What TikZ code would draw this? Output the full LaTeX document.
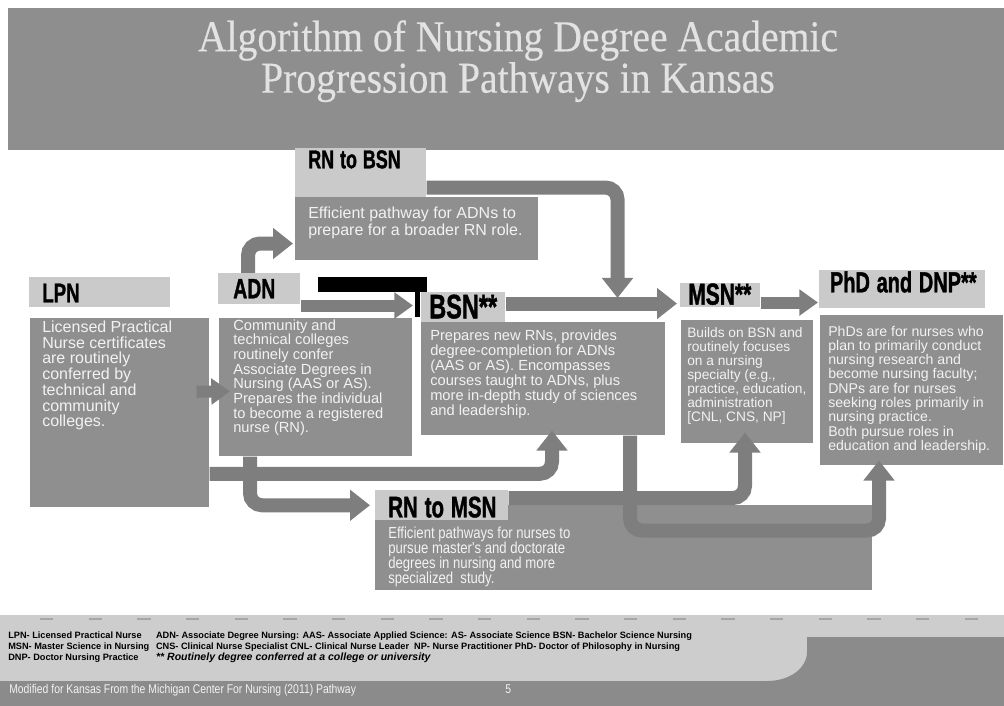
\documentclass[tikz,border=0pt]{standalone}
\usepackage{fontspec}
\setmainfont{Liberation Sans}
\newfontfamily\titlefont{Liberation Serif}[FakeStretch=0.9,FakeBold=0.3]
\newfontfamily\narrowfont{Liberation Sans}[FakeStretch=0.82]
\newfontfamily\headfont{Liberation Sans Bold}[FakeBold=1.5]
\usetikzlibrary{arrows.meta,calc}
\def\px{0.75pt}
\definecolor{bandgray}{HTML}{8E8E8E}
\definecolor{boxgray}{HTML}{8F8F8F}
\definecolor{headgray}{HTML}{CACACA}
\definecolor{arrowgray}{HTML}{7E7E7E}
\definecolor{titlegray}{HTML}{E2E2E2}
\definecolor{footlight}{HTML}{CDCDCD}
\definecolor{footdark}{HTML}{8B8B8B}
\definecolor{textwhite}{HTML}{F2F2F2}
\newcommand{\boxtext}[3]{\parbox[t][#2][t]{#1}{\raggedright #3}}
\newcommand{\hd}[1]{\scalebox{0.75}[1.08]{#1}}

\begin{document}
\begin{tikzpicture}[x=\px, y=-\px]
	\tikzstyle{head}=[fill=headgray, anchor=north west, inner ysep=0pt, align=left, text=black]
	\tikzstyle{desc}=[fill=boxgray, anchor=north west, text=textwhite]
	\tikzstyle{pathway}=[draw=arrowgray, line width=10.5pt, rounded corners=9pt, -{Triangle[length=15pt,width=22.5pt]}]
	\tikzstyle{short pathway}=[pathway, line width=9pt, -{Triangle[length=14pt,width=19pt]}]
	\tikzstyle{credit}=[anchor=base west, inner sep=0pt, text=textwhite, font=\narrowfont\fontsize{9.5}{11}\selectfont]
	\useasboundingbox (0,0) rectangle (1004,706);

	% Draw the title band
	\fill[bandgray] (8,8) rectangle (1004,150);
	\node[anchor=north, inner sep=0pt, align=center, text=titlegray, font=\titlefont\fontsize{33}{24.75}\selectfont] (title) at (518,20)
		{Algorithm of Nursing Degree Academic\\Progression Pathways in Kansas};

	% Draw the footer
	\fill[footlight] (0,615) rectangle (1004,681);
	\draw[black!35, line width=1.5pt, dash pattern=on 10pt off 26.5pt] (40,619) -- (1004,619);
	\fill[footdark] (0,681) -- (767,681) .. controls (790,681) and (807,668) .. (807,652) -- (807,637)
		-- (1004,637) -- (1004,706) -- (0,706) -- cycle;
	\node[anchor=north west, inner sep=0pt, font=\bfseries\fontsize{6.9}{8.2}\selectfont] (legend) at (8,631)
		{\begin{tabular}{@{}l@{\hspace{5pt}}l@{}}
			LPN- Licensed Practical Nurse & ADN- Associate Degree Nursing: AAS- Associate Applied Science: AS- Associate Science BSN- Bachelor Science Nursing\\
			MSN- Master Science in Nursing & CNS- Clinical Nurse Specialist CNL- Clinical Nurse Leader\ \ NP- Nurse Practitioner PhD- Doctor of Philosophy in Nursing\\
			DNP- Doctor Nursing Practice & {\fontsize{7.9}{8.2}\selectfont\itshape ** Routinely degree conferred at a college or university}
		\end{tabular}};
	\node[credit] (credit) at (9,693) {Modified for Kansas From the Michigan Center For Nursing (2011) Pathway};
	\node[credit] (page) at (505,693) {5};

	% Draw the description boxes
	\node[desc, inner xsep=9.75pt, inner ysep=7pt, font=\fontsize{12}{12.75}\selectfont] (rnbsnd) at (295,197)
		{\boxtext{162.75pt}{33.25pt}{Efficient pathway for ADNs to\\prepare for a broader RN role.}};
	\node[desc, inner xsep=9pt, inner ysep=2pt, font=\fontsize{12}{11.8}\selectfont] (lpnd) at (30,318)
		{\boxtext{116.25pt}{137.75pt}{Licensed Practical\\Nurse certificates\\are routinely\\conferred by\\technical and\\community\\colleges.}};
	\node[desc, inner xsep=10.5pt, inner ysep=1pt, font=\fontsize{11}{11}\selectfont] (adnd) at (219,318)
		{\boxtext{123.75pt}{101.5pt}{Community and\\technical colleges\\routinely confer\\Associate Degrees in\\Nursing (AAS or AS).\\Prepares the individual\\to become a registered\\nurse (RN).}};
	\node[desc, inner xsep=6.75pt, inner ysep=6pt, font=\fontsize{11}{11.25}\selectfont] (bsnd) at (421,322)
		{\boxtext{169.5pt}{72.75pt}{Prepares new RNs, provides\\degree-completion for ADNs\\(AAS or AS). Encompasses\\courses taught to ADNs, plus\\more in-depth study of sciences\\and leadership.}};
	\node[desc, inner xsep=4.5pt, inner ysep=5.5pt, font=\fontsize{10.3}{10.5}\selectfont] (msnd) at (681,320)
		{\boxtext{90pt}{81.25pt}{Builds on BSN and\\routinely focuses\\on a nursing\\specialty (e.g.,\\practice, education,\\administration\\{[CNL, CNS, NP]}}};
	\node[desc, inner xsep=6pt, inner ysep=8pt, font=\fontsize{10.6}{10.7}\selectfont] (phdd) at (820,315)
		{\boxtext{125.25pt}{96.5pt}{PhDs are for nurses who\\plan to primarily conduct\\nursing research and\\become nursing faculty;\\DNPs are for nurses\\seeking roles primarily in\\nursing practice.\\Both pursue roles in\\education and leadership.}};
	\node[desc, inner xsep=9.75pt, inner ysep=2pt, font=\narrowfont\fontsize{12}{11.25}\selectfont] (rnmsnd) at (375,505)
		{\boxtext{353.25pt}{59.75pt}{\vspace*{14.5pt}Efficient pathways for nurses to\\pursue master's and doctorate\\degrees in nursing and more\\specialized\ \ study.}};

	% Draw the level headers
	\node[head, inner xsep=9.75pt, text width=78.75pt, text height=15pt, text depth=21.75pt,
		font=\headfont\fontsize{17.9}{18}\selectfont] (rnbsnh) at (295,148) {\hd{RN to BSN}};
	\node[head, inner xsep=9.75pt, text width=86.25pt, text height=18.75pt, text depth=3.75pt,
		font=\headfont\fontsize{18.7}{19}\selectfont] (lpnh) at (29,277) {\hd{LPN}};
	\node[head, inner xsep=11.25pt, text width=39pt, text height=18.75pt, text depth=4.5pt,
		font=\headfont\fontsize{19.4}{20}\selectfont] (adnh) at (218,273) {\hd{ADN}};
	\node[head, inner xsep=6pt, text width=51pt, text height=19.5pt, text depth=3pt,
		font=\headfont\fontsize{23.5}{23.5}\selectfont] (bsnh) at (421,292) {\hd{BSN**}};
	\node[head, inner xsep=6pt, text width=48pt, text height=16pt, text depth=2pt,
		font=\headfont\fontsize{21}{21}\selectfont] (msnh) at (680,283) {\hd{MSN**}};
	\node[head, inner xsep=8pt, text width=108.5pt, text height=16.5pt, text depth=12pt,
		font=\headfont\fontsize{20}{20}\selectfont] (phdh) at (819,270) {\hd{PhD and DNP**}};
	\node[head, inner xsep=9.75pt, text width=80.25pt, text height=20.25pt, text depth=2.25pt,
		font=\headfont\fontsize{20.5}{21}\selectfont] (rnmsnh) at (375,490) {\hd{RN to MSN}};

	% Black bar over the ADN to BSN arrow
	\fill[black] (318,277) rectangle (427,292);
	\fill[black] (415,292) rectangle (420,317);

	% Connect the pathways
	\draw[pathway] ($(adnh.north west)+(30,0)$) |- ($(rnbsnd.south west)+(-2,-17)$);
	\draw[short pathway] ($(adnh.south east)+(0,1)$) -- ($(bsnh.south west)+(-8,-17)$);
	\draw[pathway] ($(rnbsnh.south east)+(0,-10)$) -| ($(bsnd.north east)+(-48,-24)$);
	\draw[pathway] ($(bsnh.south east)+(0,-19)$) -- ($(msnh.south west)+(-3,-4)$);
	\draw[short pathway] ($(msnh.south east)+(0,-5)$) -- ($(phdh.south west)+(-1,-6)$);
	\draw[short pathway] ($(lpnd.east)+(-13,-21)$) -- ($(adnd.west)+(11,4)$);
	\draw[pathway] ($(lpnd.east)+(0,61)$) -| ($(bsnd.south west)+(131,-5)$);
	\draw[pathway] ($(adnd.south west)+(31,0)$) |- ($(rnmsnh.west)+(-5,0)$);
	\draw[pathway] ($(rnmsnh.north east)+(0,8)$) -| ($(msnd.south west)+(64,-11)$);
	\draw[pathway] ($(bsnd.south west)+(209,0)$) -- ++(0,95) -| ($(phdd.south west)+(59,-5)$);
\end{tikzpicture}
\end{document}
